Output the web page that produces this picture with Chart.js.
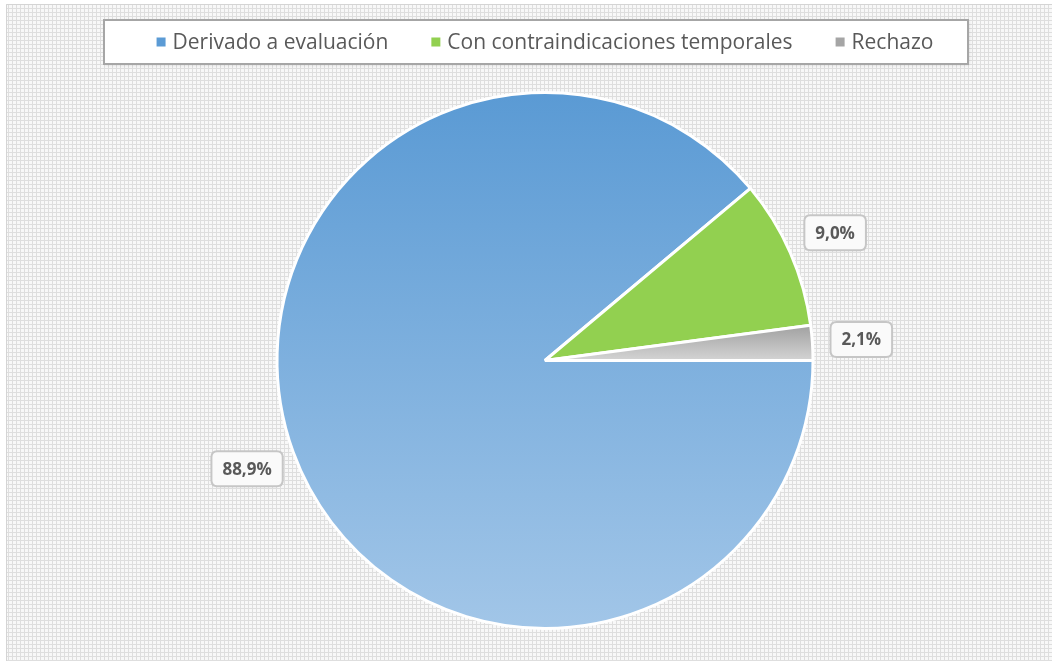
<!DOCTYPE html>
<html>
<head>
<meta charset="utf-8">
<script src="https://cdn.jsdelivr.net/npm/chart.js@4.4.1/dist/chart.umd.min.js"></script>
<style>
  html, body { margin: 0; padding: 0; background: #fff; }
  #wrap { width: 1052px; height: 661px; position: relative; }
</style>
</head>
<body>
<div id="wrap"><canvas id="pieChart"></canvas></div>
<script>
// Chart data
const categories = ["Derivado a evaluación", "Con contraindicaciones temporales", "Rechazo"];
const percentages = [88.9, 9.0, 2.1];
const legendColors = ["#5B9BD5", "#92D050", "#A5A5A5"];

const textGray = "#595959";

// rounded rectangle path helper
function roundedRect(ctx, x, y, w, h, r) {
  ctx.beginPath();
  ctx.moveTo(x + r, y);
  ctx.lineTo(x + w - r, y);
  ctx.quadraticCurveTo(x + w, y, x + w, y + r);
  ctx.lineTo(x + w, y + h - r);
  ctx.quadraticCurveTo(x + w, y + h, x + w - r, y + h);
  ctx.lineTo(x + r, y + h);
  ctx.quadraticCurveTo(x, y + h, x, y + h - r);
  ctx.lineTo(x, y + r);
  ctx.quadraticCurveTo(x, y, x + r, y);
  ctx.closePath();
}

// Dotted grey background like the original chart area
const backgroundPlugin = {
  id: "patternBackground",
  beforeDraw(chart) {
    const ctx = chart.ctx;
    const tile = document.createElement("canvas");
    tile.width = 4;
    tile.height = 4;
    const t = tile.getContext("2d");
    t.fillStyle = "#dedede";
    t.fillRect(0, 0, 4, 4);
    t.fillStyle = "#f8f8f8";
    t.fillRect(1, 1, 3, 3);
    ctx.save();
    ctx.fillStyle = "#ffffff";
    ctx.fillRect(0, 0, chart.width, chart.height);
    ctx.fillStyle = ctx.createPattern(tile, "repeat");
    ctx.fillRect(6, 4, chart.width - 6, chart.height - 4);
    ctx.strokeStyle = "#d4d4d4";
    ctx.lineWidth = 1;
    ctx.beginPath();
    ctx.moveTo(6.5, chart.height);
    ctx.lineTo(6.5, 4.5);
    ctx.lineTo(chart.width, 4.5);
    ctx.stroke();
    ctx.restore();
  },
};

// Legend in a framed box at the top
const boxedLegendPlugin = {
  id: "boxedLegend",
  beforeDatasetsDraw(chart) {
    const ctx = chart.ctx;
    ctx.save();
    // frame
    ctx.shadowColor = "rgba(0,0,0,0.15)";
    ctx.shadowBlur = 3;
    ctx.shadowOffsetX = 1;
    ctx.shadowOffsetY = 1;
    ctx.fillStyle = "#ffffff";
    ctx.fillRect(104, 20, 864, 44);
    ctx.shadowColor = "transparent";
    ctx.strokeStyle = "#a6a6a6";
    ctx.lineWidth = 2;
    ctx.strokeRect(104, 20, 864, 44);

    ctx.font = "21px 'Open Sans'";
    ctx.textBaseline = "middle";
    const box = 9, gapText = 7, gapItem = 43;
    const widths = chart.data.labels.map((l) => ctx.measureText(l).width);
    let total = 0;
    widths.forEach((w) => (total += box + gapText + w));
    total += gapItem * (widths.length - 1);
    let x = 545 - total / 2;
    const cy = 42;
    chart.data.labels.forEach((label, i) => {
      ctx.fillStyle = legendColors[i];
      ctx.fillRect(x, cy - box / 2, box, box);
      x += box + gapText;
      ctx.fillStyle = textGray;
      ctx.fillText(label, x, cy + 1);
      x += widths[i] + gapItem;
    });
    ctx.restore();
  },
};

// Percent labels in rounded boxes outside each slice
const valueLabelPlugin = {
  id: "valueLabels",
  afterDatasetsDraw(chart) {
    const ctx = chart.ctx;
    const meta = chart.getDatasetMeta(0);
    ctx.save();
    ctx.font = "bold 17px 'Open Sans'";
    ctx.textAlign = "center";
    ctx.textBaseline = "middle";
    meta.data.forEach((arc, i) => {
      const p = arc.getProps(["x", "y", "startAngle", "endAngle", "outerRadius"], true);
      const mid = (p.startAngle + p.endAngle) / 2;
      const dist = p.outerRadius + 49;
      const lx = p.x + Math.cos(mid) * dist;
      const ly = p.y + Math.sin(mid) * dist;
      const text = percentages[i].toFixed(1).replace(".", ",") + "%";
      const w = ctx.measureText(text).width + 22;
      const h = 35;
      roundedRect(ctx, lx - w / 2, ly - h / 2, w, h, 6);
      ctx.fillStyle = "#fafafa";
      ctx.fill();
      ctx.strokeStyle = "#c6c6c6";
      ctx.lineWidth = 2;
      ctx.stroke();
      ctx.fillStyle = textGray;
      ctx.fillText(text, lx, ly + 1);
    });
    ctx.restore();
  },
};

// vertical gradients for the blue and grey slices
function sliceFill(context) {
  const i = context.dataIndex;
  const area = context.chart.chartArea;
  if (!area) return legendColors[i];
  const ctx = context.chart.ctx;
  if (i === 0) {
    const g = ctx.createLinearGradient(0, area.top, 0, area.bottom);
    g.addColorStop(0, "#5A9AD4");
    g.addColorStop(1, "#A2C6E8");
    return g;
  }
  if (i === 2) {
    const g = ctx.createLinearGradient(0, 325, 0, 362);
    g.addColorStop(0, "#A0A0A0");
    g.addColorStop(1, "#D6D6D6");
    return g;
  }
  return legendColors[i];
}

new Chart(document.getElementById("pieChart"), {
  type: "pie",
  data: {
    labels: categories,
    datasets: [
      {
        data: percentages,
        backgroundColor: sliceFill,
        borderColor: "#ffffff",
        borderWidth: 3,
        hoverOffset: 0,
        offset: 0,
      },
    ],
  },
  options: {
    responsive: true,
    maintainAspectRatio: false,
    animation: false,
    events: [],
    rotation: 90,
    layout: { padding: { top: 91, bottom: 31, left: 38, right: 0 } },
    plugins: {
      legend: { display: false },
      tooltip: { enabled: false },
    },
  },
  plugins: [backgroundPlugin, boxedLegendPlugin, valueLabelPlugin],
});
</script>
</body>
</html>
